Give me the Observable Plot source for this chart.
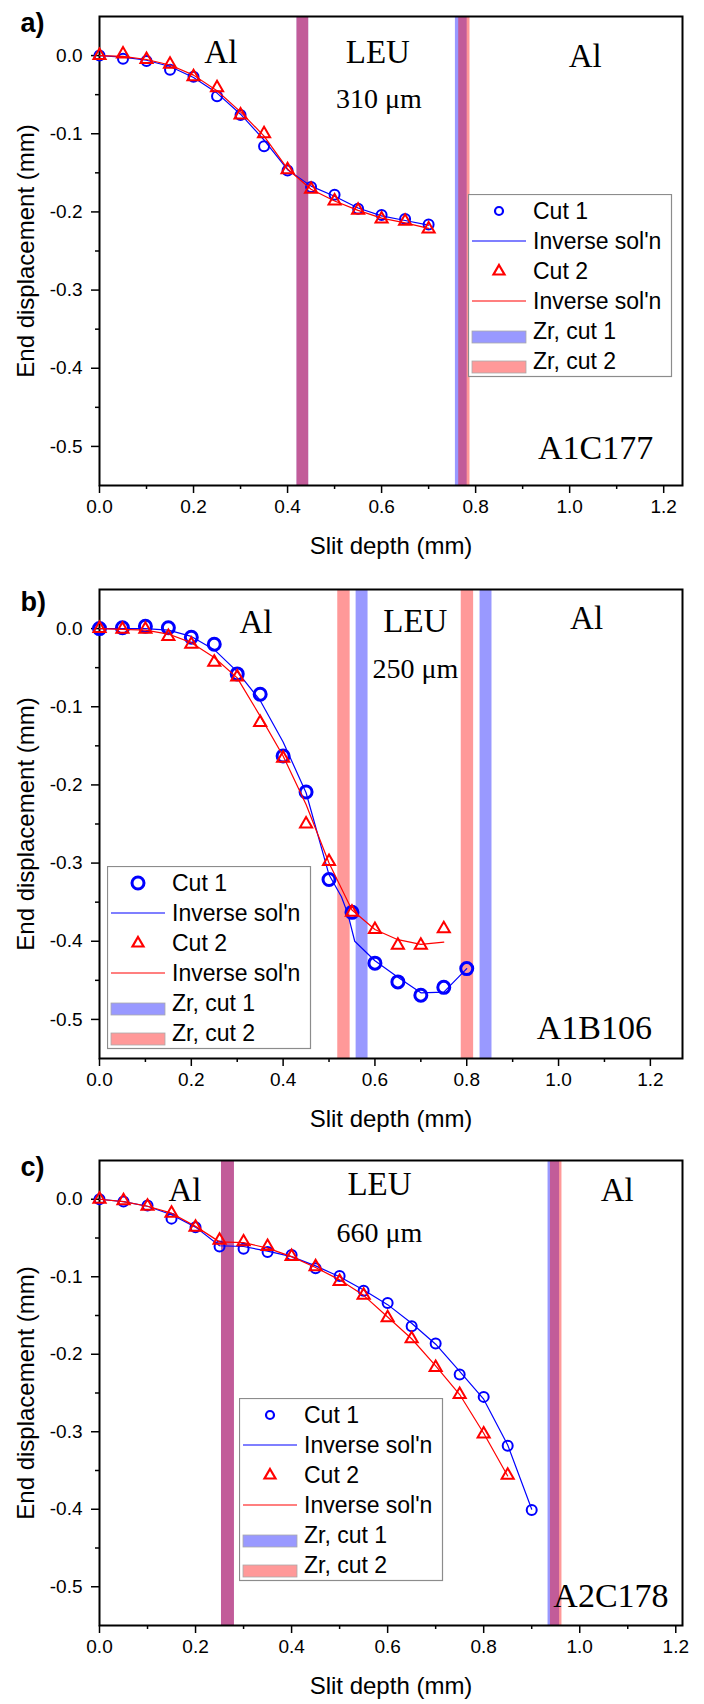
<!DOCTYPE html>
<html>
<head>
<meta charset="utf-8">
<script src="https://cdn.jsdelivr.net/npm/d3@7"></script>
<script src="https://cdn.jsdelivr.net/npm/@observablehq/plot@0.6"></script>
<style>
  body { margin: 0; background: white; }
  #root { position: relative; width: 704px; height: 1704px; overflow: hidden; }
  .panel { position: absolute; left: 0; }
  .legend { position: absolute; }
</style>
</head>
<body>
<div id="root"></div>
<script>
// ---------- shared tick values ----------
const xMajor = [0, 0.2, 0.4, 0.6, 0.8, 1.0, 1.2];
const xMinor = [0.1, 0.3, 0.5, 0.7, 0.9, 1.1];
const yMajor = [0, -0.1, -0.2, -0.3, -0.4, -0.5];
const yMinor = [-0.05, -0.15, -0.25, -0.35, -0.45];
const legendLabels = ["Cut 1", "Inverse sol'n", "Cut 2", "Inverse sol'n", "Zr, cut 1", "Zr, cut 2"];

// ---------- panel a: A1C177 ----------
const slitA = [0, 0.05, 0.1, 0.15, 0.2, 0.25, 0.3, 0.35, 0.4, 0.45, 0.5, 0.55, 0.6, 0.65, 0.7];
const cut1A = [0, -0.004, -0.007, -0.018, -0.027, -0.052, -0.076, -0.116, -0.147, -0.168, -0.178, -0.196, -0.204, -0.209, -0.216];
const cut2A = [0, 0.002, -0.005, -0.011, -0.027, -0.041, -0.076, -0.100, -0.146, -0.171, -0.186, -0.198, -0.209, -0.212, -0.222];
const inv1A = [0, -0.002, -0.006, -0.014, -0.028, -0.048, -0.075, -0.108, -0.146, -0.167, -0.180, -0.195, -0.205, -0.211, -0.217];
const inv2A = [0, -0.001, -0.005, -0.012, -0.025, -0.045, -0.072, -0.103, -0.145, -0.171, -0.186, -0.198, -0.208, -0.214, -0.221];
const zr1StartA = [0.420, 0.757], zr1EndA = [0.445, 0.782];
const zr2StartA = [0.420, 0.764], zr2EndA = [0.445, 0.788];
const layerTextA = ["Al", "LEU", "Al"], layerXA = [0.258, 0.592, 1.033], layerYA = [-0.009, -0.009, -0.014];
const thickTextA = ["310 μm"], thickXA = [0.594], thickYA = [-0.067];
const sampleA = ["A1C177"], sampleXA = [1.055], sampleYA = [-0.516];

// ---------- panel b: A1B106 ----------
const slitB1 = [0, 0.05, 0.1, 0.15, 0.2, 0.25, 0.3, 0.35, 0.4, 0.45, 0.5, 0.55, 0.6, 0.65, 0.7, 0.75, 0.8];
const cut1B = [0, 0.001, 0.003, 0.001, -0.011, -0.020, -0.058, -0.084, -0.163, -0.209, -0.321, -0.363, -0.428, -0.452, -0.469, -0.459, -0.435];
const slitB2 = [0, 0.05, 0.1, 0.15, 0.2, 0.25, 0.3, 0.35, 0.4, 0.45, 0.5, 0.55, 0.6, 0.65, 0.7, 0.75];
const cut2B = [0, -0.001, -0.001, -0.010, -0.020, -0.043, -0.062, -0.120, -0.166, -0.250, -0.298, -0.363, -0.385, -0.405, -0.405, -0.384];
const invSlitB1 = [0, 0.05, 0.1, 0.15, 0.2, 0.25, 0.3, 0.35, 0.4, 0.45, 0.5, 0.527, 0.541, 0.556, 0.6, 0.65, 0.7, 0.75, 0.8];
const inv1B = [0, 0, 0, -0.002, -0.010, -0.027, -0.055, -0.092, -0.145, -0.210, -0.315, -0.343, -0.365, -0.400, -0.425, -0.446, -0.466, -0.465, -0.435];
const inv2B = [0, -0.001, -0.002, -0.007, -0.018, -0.037, -0.063, -0.112, -0.163, -0.225, -0.300, -0.360, -0.385, -0.398, -0.404, -0.401];
const zr1StartB = [0.559, 0.829], zr1EndB = [0.585, 0.855];
const zr2StartB = [0.519, 0.788], zr2EndB = [0.546, 0.815];
const layerTextB = ["Al", "LEU", "Al"], layerXB = [0.341, 0.688, 1.061], layerYB = [-0.006, -0.004, -0.001];
const thickTextB = ["250 μm"], thickXB = [0.688], thickYB = [-0.063];
const sampleB = ["A1B106"], sampleXB = [1.078], sampleYB = [-0.525];

// ---------- panel c: A2C178 ----------
const slitC1 = [0, 0.05, 0.1, 0.15, 0.2, 0.25, 0.3, 0.35, 0.4, 0.45, 0.5, 0.55, 0.6, 0.65, 0.7, 0.75, 0.8, 0.85, 0.9];
const cut1C = [0, -0.003, -0.008, -0.025, -0.036, -0.061, -0.064, -0.068, -0.072, -0.089, -0.099, -0.118, -0.134, -0.164, -0.186, -0.226, -0.255, -0.318, -0.401];
const slitC2 = [0, 0.05, 0.1, 0.15, 0.2, 0.25, 0.3, 0.35, 0.4, 0.45, 0.5, 0.55, 0.6, 0.65, 0.7, 0.75, 0.8, 0.85];
const cut2C = [0, -0.002, -0.009, -0.018, -0.036, -0.053, -0.055, -0.061, -0.074, -0.087, -0.106, -0.124, -0.153, -0.180, -0.217, -0.252, -0.303, -0.356];
const inv1C = [0, -0.003, -0.009, -0.020, -0.036, -0.060, -0.061, -0.067, -0.074, -0.086, -0.100, -0.117, -0.136, -0.160, -0.187, -0.222, -0.258, -0.317, -0.400];
const inv2C = [0, -0.003, -0.009, -0.018, -0.035, -0.055, -0.056, -0.063, -0.074, -0.088, -0.104, -0.124, -0.152, -0.180, -0.215, -0.252, -0.302, -0.357];
const zr1StartC = [0.254, 0.934], zr1EndC = [0.281, 0.958];
const zr2StartC = [0.254, 0.939], zr2EndC = [0.281, 0.963];
const layerTextC = ["Al", "LEU", "Al"], layerXC = [0.178, 0.583, 1.078], layerYC = [-0.002, 0.005, -0.002];
const thickTextC = ["660 μm"], thickXC = [0.583], thickYC = [-0.055];
const sampleC = ["A2C178"], sampleXC = [1.065], sampleYC = [-0.526];

// ---------- helpers ----------
const pts = (xs, ys) => xs.map((x, i) => ({x, y: ys[i]}));
const bands = (s, e) => s.map((v, i) => ({x1: v, x2: e[i]}));
const labels = (t, xs, ys) => t.map((s, i) => ({t: s, x: xs[i], y: ys[i]}));
const serif = "'Liberation Serif', 'Times New Roman', serif";

function panel(o) {
  return Plot.plot({
    width: 704,
    height: 568,
    marginLeft: 99,
    marginRight: 22,
    marginTop: o.mt,
    marginBottom: o.mb,
    x: {domain: [0, o.xmax]},
    y: {domain: [-0.55, 0.05]},
    style: {fontFamily: "'Liberation Sans', Arial, sans-serif", fontSize: "19px", color: "black", background: "white", overflow: "visible"},
    marks: [
      Plot.rect(bands(o.zr1s, o.zr1e), {x1: "x1", x2: "x2", fill: "#0000ff", fillOpacity: 0.4}),
      Plot.rect(bands(o.zr2s, o.zr2e), {x1: "x1", x2: "x2", fill: "#ff0000", fillOpacity: 0.4}),
      Plot.frame({stroke: "black", strokeWidth: 2}),
      Plot.axisX({ticks: xMajor, tickSize: 8, tickPadding: 6, strokeWidth: 1.5, tickFormat: d => d.toFixed(1), label: null, fontSize: 19}),
      Plot.axisX({ticks: xMinor, tickSize: 4, strokeWidth: 1.5, tickFormat: () => "", label: null}),
      Plot.axisY({ticks: yMajor, tickSize: 8, tickPadding: 9, strokeWidth: 1.5, tickFormat: d => d.toFixed(1), label: null, fontSize: 19}),
      Plot.axisY({ticks: yMinor, tickSize: 4, strokeWidth: 1.5, tickFormat: () => "", label: null}),
      Plot.line(pts(o.invx1, o.inv1), {x: "x", y: "y", stroke: "#0000ff", strokeWidth: 1.2}),
      Plot.dot(pts(o.x1, o.c1), {x: "x", y: "y", r: o.cr, stroke: "#0000ff", strokeWidth: o.csw, fill: "none"}),
      Plot.line(pts(o.invx2, o.inv2), {x: "x", y: "y", stroke: "#ff0000", strokeWidth: 1.2}),
      Plot.dot(pts(o.x2, o.c2), {x: "x", y: "y", symbol: "triangle", r: o.tr, stroke: "#ff0000", strokeWidth: 2, fill: "none"}),
      Plot.text(labels(o.layerT, o.layerX, o.layerY), {x: "x", y: "y", text: "t", fontFamily: serif, fontSize: 33, lineAnchor: "bottom"}),
      Plot.text(labels(o.thickT, o.thickX, o.thickY), {x: "x", y: "y", text: "t", fontFamily: serif, fontSize: 28, lineAnchor: "bottom"}),
      Plot.text(labels(o.sampT, o.sampX, o.sampY), {x: "x", y: "y", text: "t", fontFamily: serif, fontSize: 34, lineAnchor: "bottom"}),
      Plot.text([o.tag], {frameAnchor: "top-left", dx: -79, dy: o.tagDy, textAnchor: "start", lineAnchor: "bottom", fontWeight: "bold", fontSize: 27}),
      Plot.text(["End displacement (mm)"], {frameAnchor: "left", dx: -73, rotate: -90, textAnchor: "middle", lineAnchor: "middle", fontSize: 24}),
      Plot.text(["Slit depth (mm)"], {frameAnchor: "bottom", dy: 61, textAnchor: "middle", lineAnchor: "middle", fontSize: 24})
    ]
  });
}

function legend(left, top, cr, csw) {
  const svg = d3.create("svg").attr("width", 205).attr("height", 184)
    .style("font-family", "'Liberation Sans', Arial, sans-serif").style("font-size", "23px");
  svg.append("rect").attr("x", 0.5).attr("y", 0.5).attr("width", 203).attr("height", 182)
    .attr("fill", "white").attr("stroke", "#8c8c8c").attr("stroke-width", 1.2);
  svg.append("circle").attr("cx", 31).attr("cy", 17).attr("r", cr).attr("fill", "none").attr("stroke", "#0000ff").attr("stroke-width", csw);
  svg.append("line").attr("x1", 4).attr("x2", 58).attr("y1", 47).attr("y2", 47).attr("stroke", "#0000ff").attr("stroke-width", 1.2);
  svg.append("path").attr("d", "M31,71L36.5,80.5L25.5,80.5Z").attr("fill", "none").attr("stroke", "#ff0000").attr("stroke-width", 2.2);
  svg.append("line").attr("x1", 4).attr("x2", 58).attr("y1", 107).attr("y2", 107).attr("stroke", "#ff0000").attr("stroke-width", 1.2);
  svg.append("rect").attr("x", 4).attr("y", 137).attr("width", 54).attr("height", 12).attr("fill", "#9999ff").attr("stroke", "#aaaaaa").attr("stroke-width", 0.8);
  svg.append("rect").attr("x", 4).attr("y", 167).attr("width", 54).attr("height", 12).attr("fill", "#ff9999").attr("stroke", "#aaaaaa").attr("stroke-width", 0.8);
  const base = [25, 55, 85, 115, 145, 175];
  legendLabels.forEach((t, i) => svg.append("text").attr("x", 65).attr("y", base[i]).text(t));
  const div = document.createElement("div");
  div.className = "legend";
  div.style.left = left + "px";
  div.style.top = top + "px";
  div.appendChild(svg.node());
  return div;
}

const root = document.getElementById("root");
function place(node, top) {
  const d = document.createElement("div");
  d.className = "panel";
  d.style.top = top + "px";
  d.appendChild(node);
  root.appendChild(d);
}

place(panel({
  mt: 16, mb: 83, xmax: 1.24, tag: "a)", tagDy: 15,
  x1: slitA, c1: cut1A, x2: slitA, c2: cut2A, invx1: slitA, inv1: inv1A, invx2: slitA, inv2: inv2A,
  zr1s: zr1StartA, zr1e: zr1EndA, zr2s: zr2StartA, zr2e: zr2EndA,
  layerT: layerTextA, layerX: layerXA, layerY: layerYA,
  thickT: thickTextA, thickX: thickXA, thickY: thickYA,
  sampT: sampleA, sampX: sampleXA, sampY: sampleYA,
  cr: 5, csw: 2, tr: 4.5
}), 0);

place(panel({
  mt: 21, mb: 78, xmax: 1.27, tag: "b)", tagDy: 21,
  x1: slitB1, c1: cut1B, x2: slitB2, c2: cut2B, invx1: invSlitB1, inv1: inv1B, invx2: slitB2, inv2: inv2B,
  zr1s: zr1StartB, zr1e: zr1EndB, zr2s: zr2StartB, zr2e: zr2EndB,
  layerT: layerTextB, layerX: layerXB, layerY: layerYB,
  thickT: thickTextB, thickX: thickXB, thickY: thickYB,
  sampT: sampleB, sampX: sampleXB, sampY: sampleYB,
  cr: 6, csw: 3, tr: 4.5
}), 568);

place(panel({
  mt: 24, mb: 79, xmax: 1.214, tag: "c)", tagDy: 15,
  x1: slitC1, c1: cut1C, x2: slitC2, c2: cut2C, invx1: slitC1, inv1: inv1C, invx2: slitC2, inv2: inv2C,
  zr1s: zr1StartC, zr1e: zr1EndC, zr2s: zr2StartC, zr2e: zr2EndC,
  layerT: layerTextC, layerX: layerXC, layerY: layerYC,
  thickT: thickTextC, thickX: thickXC, thickY: thickYC,
  sampT: sampleC, sampX: sampleXC, sampY: sampleYC,
  cr: 5, csw: 2, tr: 4.5
}), 1136);

root.appendChild(legend(468, 194, 4, 2.2));
root.appendChild(legend(107, 866, 6, 3));
root.appendChild(legend(239, 1398, 4, 2.2));
</script>
</body>
</html>
